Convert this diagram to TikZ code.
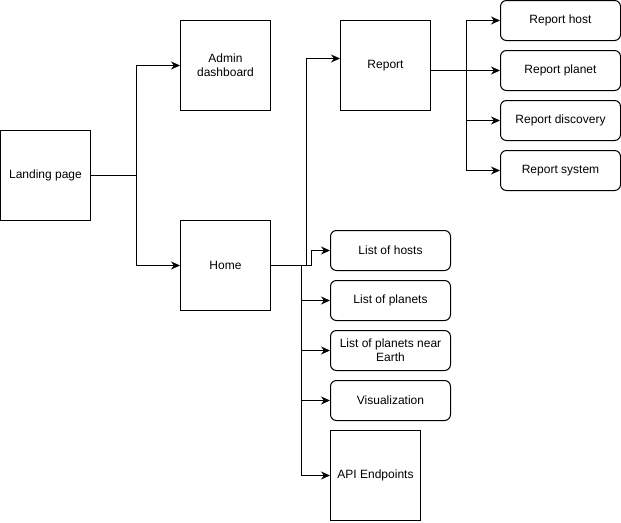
\documentclass[tikz,border=0pt]{standalone}
\usepackage{fontspec}
\setmainfont{Liberation Sans}
\usetikzlibrary{arrows.meta}
\tikzstyle{page}=[draw, line width=1pt, minimum width=90pt, minimum height=90pt, inner sep=0pt, align=center, font=\fontsize{12}{14}\selectfont]
\tikzstyle{subpage}=[page, rounded corners=6pt, minimum width=120pt, minimum height=40pt]
\tikzstyle{edge} = [draw, line width=1pt, -{Stealth[length=9pt,width=8pt,inset=3pt]}]

\begin{document}
\begin{tikzpicture}[x=1pt, y=-1pt]
    \useasboundingbox (0,0) rectangle (621,522);

    % square pages
    \foreach \x/\y/\name/\txt in {45.5/175.5/landing/{Landing page}, 225.5/65.5/admin/{Admin\\dashboard}, 225.5/265.5/home/{Home}, 385.5/65.5/report/{Report}, 375.5/475.5/api/{API Endpoints}}
        \node[page] (\name) at (\x, \y) {\txt};

    % report pages
    \foreach \y/\name/\txt in {20.5/rhost/{Report host}, 70.5/rplanet/{Report planet}, 120.5/rdisc/{Report discovery}, 170.5/rsys/{Report system}}
        \node[subpage] (\name) at (560.5, \y) {\txt};

    % home pages
    \foreach \y/\name/\txt in {250.5/lhosts/{List of hosts}, 300.5/lplanets/{List of planets}, 350.5/lnear/{List of planets near\\Earth}, 400.5/visual/{Visualization}}
        \node[subpage] (\name) at (390.5, \y) {\txt};

    \foreach \dest in {admin, home}
        \path[edge] (landing.east) -- ++(45,0) |- (\dest.west);

    \path[edge] (home.east) -- ++(35,0) |- ([yshift=7pt]report.west);
    \path[edge] (home.east) -- ++(40,0) |- (lhosts.west);
    \foreach \dest in {lplanets, lnear, visual, api}
        \path[edge] (home.east) -- ++(30,0) |- (\dest.west);

    \foreach \dest in {rhost, rplanet, rdisc, rsys}
        \path[edge] ([yshift=-5pt]report.east) -- ++(35,0) |- (\dest.west);

\end{tikzpicture}
\end{document}
